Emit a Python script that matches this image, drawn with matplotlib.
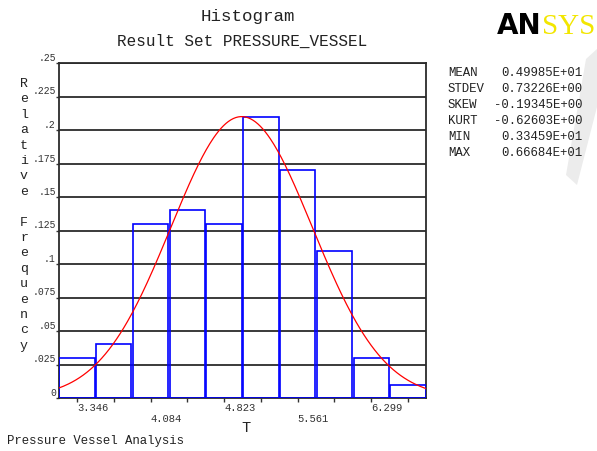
import numpy as np
import matplotlib
matplotlib.use("Agg")
import matplotlib.pyplot as plt
import matplotlib.transforms as mtransforms
from matplotlib.patches import Polygon

# histogram data
x_ticks = [3.3459, 3.7151, 4.0843, 4.4534, 4.8226, 5.1918, 5.5610, 5.9301, 6.2993, 6.6684]
rel_freq = [0.03, 0.04, 0.13, 0.14, 0.13, 0.21, 0.17, 0.11, 0.03, 0.01]
x_labels = ["3.346", "4.084", "4.823", "5.561", "6.299"]
y_ticks = [0, 0.025, 0.05, 0.075, 0.1, 0.125, 0.15, 0.175, 0.2, 0.225, 0.25]
y_labels = ["0", ".025", ".05", ".075", ".1", ".125", ".15", ".175", ".2", ".225", ".25"]

# fitted normal curve drawn over the bars
curve_mean = 4.9985
curve_sd = 0.71
curve_peak = 0.21

stat_names = ["MEAN", "STDEV", "SKEW", "KURT", "MIN", "MAX"]
stat_values = ["0.49985E+01", "0.73226E+00", "-0.19345E+00", "-0.62603E+00",
               "0.33459E+01", "0.66684E+01"]

W, H = 597, 452
MONO = "Liberation Mono"
TXT = "#222222"


def fx(px):
    return px / W


def fy(py):
    return 1 - py / H


fig = plt.figure(figsize=(W / 100, H / 100), dpi=100)
fig.patch.set_facecolor("white")

# faint watermark at the right edge
fig.patches.append(Polygon([(fx(586), fy(60)), (fx(597), fy(50)), (fx(597), fy(108)),
                            (fx(577), fy(186)), (fx(566), fy(176))],
                           closed=True, transform=fig.transFigure,
                           facecolor="#ececec", edgecolor="none", zorder=0))

ax = fig.add_axes([fx(58.6), fy(399), fx(426.4) - fx(58.6), (399 - 64) / H])
d = x_ticks[1] - x_ticks[0]
x0, x1 = x_ticks[0] - d / 2, x_ticks[-1] + d / 2
ax.set_xlim(x0, x1)
ax.set_ylim(0, 0.25)

ax.set_yticks(y_ticks)
ax.set_xticks(x_ticks)
ax.set_yticklabels([])
ax.set_xticklabels([])
ax.yaxis.grid(True, color="#2b2b2b", lw=1.3)
ax.set_axisbelow(True)
ax.tick_params(axis="x", direction="out", length=3, width=1, color="#333333")
ax.tick_params(axis="y", direction="out", length=2, width=1, color="#333333")
for s in ax.spines.values():
    s.set_color("#2b2b2b")
    s.set_linewidth(1.3)

ax.bar(x_ticks, rel_freq, width=d * 0.96, fill=False, edgecolor="#0000ff",
       linewidth=1.2, zorder=3)

xs = np.linspace(x0, x1, 300)
ys = curve_peak * np.exp(-0.5 * ((xs - curve_mean) / curve_sd) ** 2)
ax.plot(xs, ys, color="#ff0000", lw=0.9, zorder=4)

# x tick labels, alternating rows, left edge at the tick
xtrans = mtransforms.blended_transform_factory(ax.transData, fig.transFigure)
for i, (t, lab) in enumerate(zip(x_ticks[::2], x_labels)):
    row = 407.7 if i % 2 == 0 else 419.3
    ax.text(t, fy(row), lab, transform=xtrans, ha="left", va="center",
            family=MONO, fontsize=7.6, color="#333333")

# y tick labels sitting just above their grid lines
ytrans = mtransforms.offset_copy(
    mtransforms.blended_transform_factory(fig.transFigure, ax.transData),
    fig=fig, x=0, y=6, units="dots")
for v, lab in zip(y_ticks, y_labels):
    ax.text(fx(55.8), v, lab, transform=ytrans, ha="right", va="center",
            family=MONO, fontsize=7, color="#333333", clip_on=False)

# vertical axis label, one letter per line
ylab = "Relative Frequency"
for i, ch in enumerate(ylab):
    fig.text(fx(24), fy(84 + i * 15.4), ch, ha="center", va="center",
             family=MONO, fontsize=9.5, color=TXT)

fig.text(fx(245.5), fy(428), "T", ha="center", va="center",
         family=MONO, fontsize=11, color=TXT)

fig.text(fx(247.5), fy(17), "Histogram", ha="center", va="center",
         family=MONO, fontsize=12.6, color=TXT)
fig.text(fx(242), fy(41), "Result Set PRESSURE_VESSEL", ha="center", va="center",
         family=MONO, fontsize=11.5, color=TXT)

fig.text(fx(7), fy(441), "Pressure Vessel Analysis", ha="left", va="center",
         family=MONO, fontsize=8.9, color=TXT)

for i, (n, v) in enumerate(zip(stat_names, stat_values)):
    yy = fy(72.7 + i * 16)
    fig.text(fx(448), yy, n, ha="left", va="center", family=MONO,
             fontsize=8.9, color=TXT)
    fig.text(fx(582), yy, v, ha="right", va="center", family=MONO,
             fontsize=8.9, color=TXT)

# logo
fig.text(fx(497), fy(34.5), "AN", ha="left", va="baseline",
         family="DejaVu Sans", fontweight="heavy", fontsize=20, color="black")
fig.text(fx(542), fy(34.5), "SYS", ha="left", va="baseline",
         family="Liberation Serif", fontsize=21, color="#f2e600")

fig.savefig("out.png", dpi=100)
